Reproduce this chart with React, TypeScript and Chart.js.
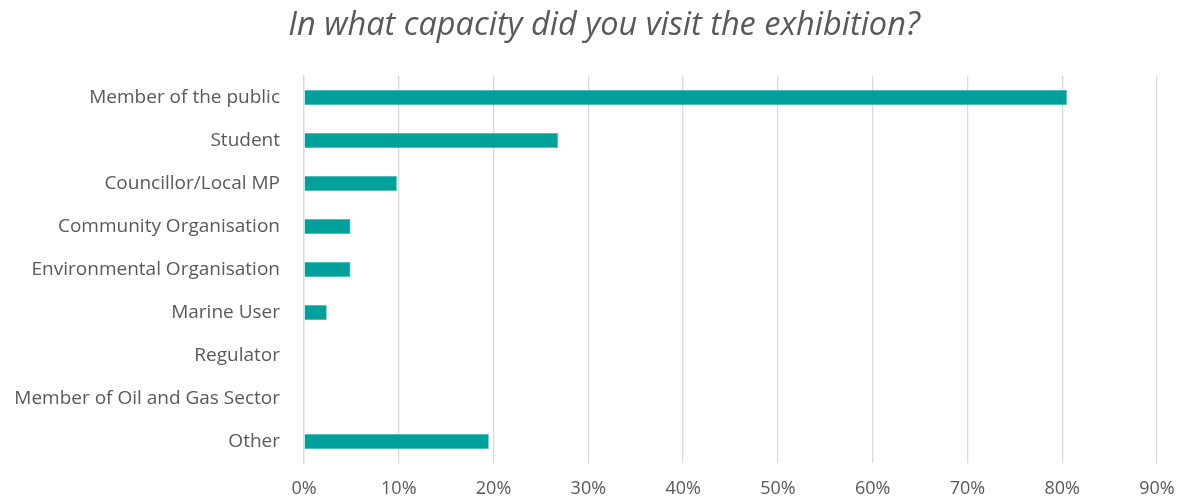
import React, { useEffect, useRef } from "react";
import { Chart, registerables } from "chart.js";

Chart.register(...registerables);

const categories = [
  "Member of the public",
  "Student",
  "Councillor/Local MP",
  "Community Organisation",
  "Environmental Organisation",
  "Marine User",
  "Regulator",
  "Member of Oil and Gas Sector",
  "Other",
];
const percentages = [80.5, 26.8, 9.8, 4.9, 4.9, 2.4, 0, 0, 19.5];
const xTicks = [0, 10, 20, 30, 40, 50, 60, 70, 80, 90];
const titleText = "In what capacity did you visit the exhibition?";

const titleShift = {
  id: "titleShift",
  afterLayout(chart: any) {
    const t = chart.titleBlock;
    if (t) {
      t.left = 25;
      t.right = chart.width;
      t.width = t.right - t.left;
    }
  },
};

export default function App() {
  const ref = useRef<HTMLCanvasElement>(null);
  useEffect(() => {
    document.body.style.margin = "0";
    const ctx = ref.current!;
    const chart = new Chart(ctx, {
      type: "bar",
      data: {
        labels: categories,
        datasets: [
          {
            data: percentages,
            backgroundColor: "#00a19a",
            borderColor: "#3fb8b2",
            borderWidth: 0.6,
            barPercentage: 0.7,
            categoryPercentage: 0.5,
          },
        ],
      },
      plugins: [titleShift],
      options: {
        indexAxis: "y",
        animation: false,
        responsive: false,
        maintainAspectRatio: false,
        layout: { padding: { left: 0, right: 26, top: 0, bottom: 0 } },
        plugins: {
          legend: { display: false },
          tooltip: { enabled: false },
          title: {
            display: true,
            text: titleText,
            color: "#595959",
            font: { family: "Open Sans", size: 32.5, style: "italic", weight: "normal", lineHeight: 1.2 },
            padding: { top: 6, bottom: 31 },
          },
        },
        scales: {
          x: {
            min: 0,
            max: 90,
            afterBuildTicks: (scale: any) => {
              scale.ticks = xTicks.map((v) => ({ value: v }));
            },
            afterFit: (scale: any) => {
              scale.height = 36;
              scale.paddingLeft = 0;
              scale.paddingRight = 0;
            },
            grid: { color: "#d9d9d9", lineWidth: 1.3, drawTicks: false },
            border: { display: false },
            ticks: {
              padding: 15,
              maxRotation: 0,
              color: "#595959",
              font: { family: "Open Sans", size: 18 },
              callback: (v: any) => v + "%",
            },
          },
          y: {
            afterFit: (scale: any) => {
              scale.width = 304;
            },
            grid: { display: false, drawTicks: false },
            border: { display: true, color: "#d9d9d9", width: 1.3 },
            ticks: {
              padding: 24,
              color: "#595959",
              font: { family: "Open Sans", size: 19 },
            },
          },
        },
      },
    });
    return () => chart.destroy();
  }, []);
  return (
    <div style={{ width: 1183, height: 499 }}>
      <canvas ref={ref} width={1183} height={499} style={{ display: "block" }} />
    </div>
  );
}
